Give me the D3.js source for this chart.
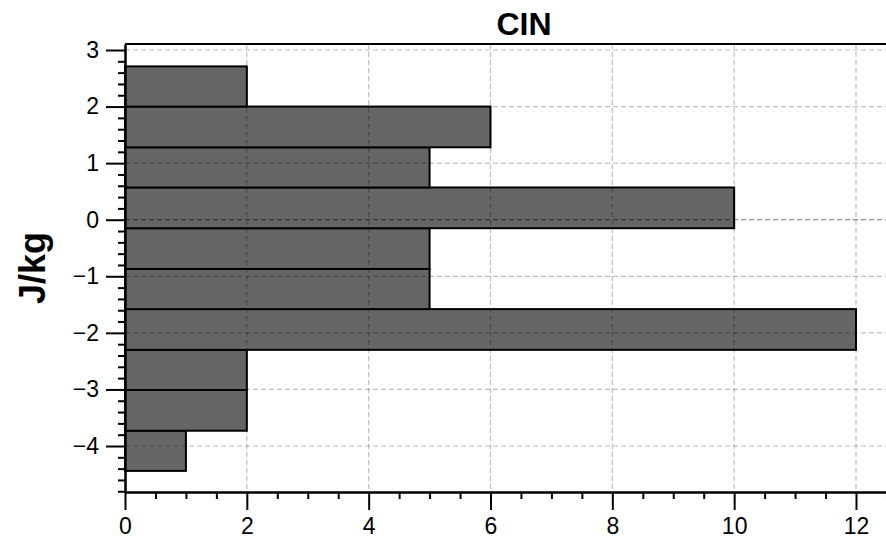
<!DOCTYPE html>
<html>
<head>
<meta charset="utf-8">
<script src="https://cdn.jsdelivr.net/npm/d3@7"></script>
<style>
  body { margin: 0; background: #fff; }
  svg { display: block; font-family: "Liberation Sans", Arial, Helvetica, sans-serif; }
</style>
</head>
<body>
<div id="chart"></div>
<script>
// histogram of CIN (J/kg), bins (bottom to top)
const binEdges = [-4.44, -3.73, -3.01, -2.30, -1.58, -0.87, -0.15, 0.57, 1.28, 2.00, 2.71];
const counts = [1, 2, 2, 12, 5, 5, 10, 5, 6, 2];
const xTicks = [0, 2, 4, 6, 8, 10, 12];
const yTicks = [-4, -3, -2, -1, 0, 1, 2, 3];
const title = 'CIN';
const yLabel = 'J/kg';

const width = 886, height = 540;
const margin = { top: 44, right: -37, bottom: 48, left: 125 };

const bins = counts.map((c, i) => ({ y0: binEdges[i], y1: binEdges[i + 1], count: c }));

const svg = d3.select('#chart').append('svg')
  .attr('width', width)
  .attr('height', height);

const x = d3.scaleLinear()
  .domain([0, 13.1])
  .range([margin.left, width - margin.right]);

const y = d3.scaleLinear()
  .domain([-4.813, 3.106])
  .range([height - margin.bottom, margin.top]);

/* bars */
svg.append('g')
  .selectAll('rect')
  .data(bins)
  .join('rect')
  .attr('x', x(0))
  .attr('y', d => y(d.y1))
  .attr('width', d => x(d.count) - x(0))
  .attr('height', d => y(d.y0) - y(d.y1))
  .attr('fill', '#666666')
  .attr('stroke', '#000')
  .attr('stroke-width', 2);

/* grid on top of the bars */
const grid = svg.append('g')
  .attr('fill', 'none')
  .attr('stroke-dasharray', '5,3')
  .attr('stroke-width', 1.2);

grid.selectAll('.vgrid')
  .data(xTicks.filter(t => t > 0))
  .join('line')
  .attr('class', 'vgrid')
  .attr('x1', d => x(d)).attr('x2', d => x(d))
  .attr('y1', y.range()[1]).attr('y2', y.range()[0])
  .attr('stroke', 'rgba(0,0,0,0.25)');

grid.selectAll('.hgrid')
  .data(yTicks)
  .join('line')
  .attr('class', 'hgrid')
  .attr('x1', x.range()[0]).attr('x2', x.range()[1])
  .attr('y1', d => y(d)).attr('y2', d => y(d))
  .attr('stroke', d => d === 0 ? 'rgba(0,0,0,0.45)' : 'rgba(0,0,0,0.25)');

/* axes */
const fmt = d => d < 0 ? '\u2212' + Math.abs(d) : String(d);

const xMinor = d3.range(0.5, 13, 0.5).filter(v => v % 2 !== 0);
const yMinor = d3.range(-4.8, 3.1, 0.2).map(v => +v.toFixed(1)).filter(v => !Number.isInteger(v));

const xAxis = svg.append('g')
  .attr('transform', `translate(0, ${y.range()[0]})`)
  .call(d3.axisBottom(x).tickValues(xTicks).tickFormat(fmt).tickSize(18).tickSizeOuter(0).tickPadding(8));

const xAxisMinor = svg.append('g')
  .attr('transform', `translate(0, ${y.range()[0]})`)
  .call(d3.axisBottom(x).tickValues(xMinor).tickFormat('').tickSize(7).tickSizeOuter(0));

const yAxis = svg.append('g')
  .attr('transform', `translate(${x.range()[0]}, 0)`)
  .call(d3.axisLeft(y).tickValues(yTicks).tickFormat(fmt).tickSize(19).tickSizeOuter(0).tickPadding(7));

const yAxisMinor = svg.append('g')
  .attr('transform', `translate(${x.range()[0]}, 0)`)
  .call(d3.axisLeft(y).tickValues(yMinor).tickFormat('').tickSize(7).tickSizeOuter(0));

[xAxis, xAxisMinor, yAxis, yAxisMinor].forEach(g => {
  g.select('.domain').attr('stroke', '#000').attr('stroke-width', 2);
  g.selectAll('.tick line').attr('stroke', '#000').attr('stroke-width', 2);
});

xAxis.selectAll('.tick text')
  .attr('font-size', 23)
  .attr('font-family', '"Liberation Sans", Arial, sans-serif')
  .attr('fill', '#000');

yAxis.selectAll('.tick text')
  .attr('font-size', 23)
  .attr('font-family', '"Liberation Sans", Arial, sans-serif')
  .attr('fill', '#000');

/* top frame line */
svg.append('line')
  .attr('x1', x.range()[0]).attr('x2', x.range()[1])
  .attr('y1', y.range()[1]).attr('y2', y.range()[1])
  .attr('stroke', '#000')
  .attr('stroke-width', 2);

/* title and y label */
svg.append('text')
  .attr('x', (x.range()[0] + x.range()[1]) / 2)
  .attr('y', 35)
  .attr('text-anchor', 'middle')
  .attr('font-size', 32)
  .attr('font-weight', 'bold')
  .text(title);

svg.append('text')
  .attr('transform', `translate(45, ${(y.range()[0] + y.range()[1]) / 2}) rotate(-90)`)
  .attr('text-anchor', 'middle')
  .attr('font-size', 36)
  .attr('font-weight', 'bold')
  .text(yLabel);
</script>
</body>
</html>
